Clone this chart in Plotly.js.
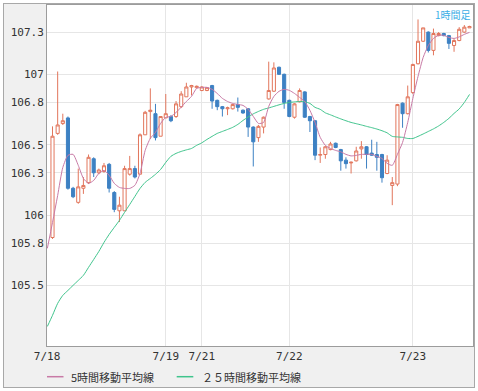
<!DOCTYPE html>
<html><head><meta charset="utf-8">
<script src="https://cdn.plot.ly/plotly-3.0.1.min.js"></script>
<style>
html,body{margin:0;padding:0;background:#ffffff;}
#frame{position:absolute;left:3px;top:3px;width:470px;height:383px;border:1px solid #a8a8a8;background:#f0f0f0;}
#chart{width:470px;height:383px;}
</style></head><body>
<div id="frame"><div id="chart"></div></div>
<script>
// Hourly candles, 7/18 02:00 ... 7/23 11:00 (weekend gap after 7/19 06:00)
var open = [105.84,106.58,106.65,106.69,106.19,106.09,106.19,106.23,106.40,106.30,
  106.31,106.36,106.16,106.03,106.03,106.29,106.33,106.29,106.57,106.735,
  106.72,106.56,106.69,106.70,106.70,106.77,106.84,106.91,106.905,106.885,
  106.885,106.92,106.815,106.77,106.755,106.755,106.785,106.745,106.755,106.625,
  106.55,106.625,106.825,106.88,107.05,107.0,106.815,106.695,106.805,106.875,
  106.70,106.67,106.425,106.43,106.465,106.51,106.465,106.39,106.37,106.385,
  106.47,106.485,106.44,106.43,106.43,106.295,106.21,106.22,106.795,106.72,
  106.87,107.075,107.235,107.30,107.17,107.275,107.29,107.275,107.205,107.24,
  107.30,107.33];
var high = [106.63,107.02,106.72,106.70,106.20,106.33,106.27,106.43,106.41,106.33,
  106.37,106.37,106.17,106.13,106.35,106.42,106.35,106.58,106.74,106.90,
  106.79,106.70,106.86,106.71,106.81,106.88,106.94,106.925,106.92,106.915,
  106.91,106.925,106.82,106.775,106.77,106.79,106.835,106.75,106.76,106.63,
  106.64,106.70,107.09,107.085,107.055,107.005,106.82,106.795,106.90,106.88,
  106.705,106.675,106.48,106.49,106.52,106.515,106.47,106.41,106.38,106.485,
  106.525,106.49,106.535,106.52,106.435,106.425,106.27,106.79,106.80,106.92,
  107.075,107.39,107.33,107.305,107.325,107.30,107.295,107.28,107.25,107.335,
  107.35,107.345];
var low = [105.83,106.57,106.64,106.18,106.12,106.08,106.15,106.22,106.27,106.29,
  106.30,106.16,106.02,105.95,106.03,106.28,106.26,106.29,106.57,106.54,
  106.53,106.56,106.69,106.66,106.69,106.76,106.84,106.85,106.90,106.88,
  106.88,106.755,106.745,106.70,106.71,106.75,106.735,106.72,106.555,106.345,
  106.52,106.58,106.82,106.875,106.995,106.755,106.695,106.685,106.80,106.69,
  106.59,106.39,106.37,106.40,106.46,106.475,106.315,106.33,106.295,106.38,
  106.40,106.33,106.42,106.315,106.23,106.29,106.07,106.205,106.62,106.715,
  106.86,107.07,107.23,107.155,107.135,107.27,107.27,107.18,107.16,107.235,
  107.295,107.33];
var close = [106.56,106.64,106.67,106.19,106.13,106.20,106.21,106.41,106.30,106.32,
  106.35,106.19,106.04,106.07,106.33,106.33,106.27,106.57,106.73,106.745,
  106.55,106.70,106.72,106.67,106.79,106.86,106.91,106.92,106.915,106.91,
  106.905,106.81,106.77,106.755,106.762,106.785,106.765,106.725,106.625,106.52,
  106.63,106.695,106.885,107.045,107.0,106.80,106.70,106.79,106.885,106.695,
  106.67,106.425,106.43,106.485,106.505,106.48,106.385,106.365,106.375,106.455,
  106.485,106.43,106.425,106.41,106.265,106.39,106.23,106.785,106.72,106.84,
  107.07,107.235,107.33,107.17,107.29,107.29,107.275,107.22,107.24,107.32,
  107.335,107.34];
// moving averages, first value = the hour before the first candle shown
var ma5 = [105.763,105.947,106.139,106.338,106.424,106.431,106.353,106.260,106.225,106.246,
  106.296,106.317,106.282,106.225,106.196,106.189,106.189,106.211,106.296,106.459,
  106.545,106.587,106.651,106.694,106.701,106.729,106.767,106.807,106.843,106.900,
  106.907,106.907,106.893,106.864,106.829,106.807,106.793,106.786,106.779,106.751,
  106.701,106.651,106.658,106.772,106.843,106.879,106.893,106.886,106.864,106.836,
  106.807,106.744,106.658,106.552,106.495,106.473,106.459,106.449,106.431,106.420,
  106.424,106.431,106.431,106.431,106.417,106.402,106.367,106.353,106.431,106.516,
  106.658,106.829,106.985,107.120,107.205,107.255,107.277,107.277,107.262,107.255,
  107.266,107.284,107.298];
var ma25 = [105.208,105.287,105.372,105.429,105.464,105.500,105.535,105.571,105.628,105.684,
  105.741,105.805,105.862,105.912,105.962,106.019,106.075,106.132,106.189,106.232,
  106.260,106.289,106.324,106.374,106.417,106.438,106.452,106.463,106.473,106.495,
  106.513,106.537,106.559,106.580,106.594,106.608,106.623,106.644,106.672,106.697,
  106.719,106.736,106.751,106.761,106.772,106.783,106.793,106.800,106.804,106.807,
  106.805,106.793,106.765,106.751,106.726,106.712,106.697,106.683,106.670,106.658,
  106.649,106.640,106.630,106.621,106.611,106.599,106.584,106.559,106.555,106.552,
  106.544,106.544,106.559,106.576,106.594,106.612,106.633,106.658,106.687,106.722,
  106.754,106.800,106.857];
var dayLabels = ["7/18","7/19","7/21","7/22","7/23"];
var dayPos = [-1.06, 22, 29, 46, 70];
var priceTicks = [105.5,105.8,106,106.3,106.5,106.8,107,107.3];
var priceLabels = ["105.5","105.8","106","106.3","106.5","106.8","107","107.3"];
var seriesNames = ["5時間移動平均線","２５時間移動平均線"];
var periodLabel = "1時間足";

var candleX = open.map(function(_, i){ return i; });
var maX = ma5.map(function(_, i){ return i - 1; });

var C5 = "#c87aa6", C25 = "#3fc48c";
var traces = [
  {type:"scatter", mode:"lines", x:maX, y:ma25, name:seriesNames[1],
   line:{color:C25, width:1, shape:"spline", smoothing:0.6}, hoverinfo:"skip"},
  {type:"candlestick", x:candleX, open:open, high:high, low:low, close:close,
   increasing:{line:{color:"#e2765c", width:1}, fillcolor:"#ffffff"},
   decreasing:{line:{color:"#3d81c3", width:1}, fillcolor:"#3d81c3"},
   whiskerwidth:0, hoverinfo:"skip"},
  {type:"scatter", mode:"lines", x:maX, y:ma5, name:seriesNames[0],
   line:{color:C5, width:1, shape:"spline", smoothing:0.6}, hoverinfo:"skip"}
];

var W = 426, H = 341; // plot area px
function px2x(p){ return (p - 47) / W; }
function px2y(p){ return (346 - p) / H; }
var legY = px2y(376.7);

var tickFont = {family:"DejaVu Sans Mono, Liberation Mono, monospace", size:11, color:"#333333"};
var layout = {
  width:470, height:383,
  margin:{l:43, r:1, t:1, b:41, pad:0},
  paper_bgcolor:"#f0f0f0", plot_bgcolor:"#ffffff",
  showlegend:false, hovermode:false,
  boxgap:0.4, boxgroupgap:0,
  xaxis:{type:"linear", range:[-1.07, 81.68], tickvals:dayPos, ticktext:dayLabels,
    showgrid:true, gridcolor:"#e6e6e6", gridwidth:1, zeroline:false,
    showline:true, linecolor:"#9c9c9c", linewidth:1, mirror:true, ticks:"",
    tickfont:tickFont, rangeslider:{visible:false}, fixedrange:true},
  yaxis:{range:[105.069, 107.4926], tickvals:priceTicks, ticktext:priceLabels,
    showgrid:true, gridcolor:"#e6e6e6", gridwidth:1, zeroline:false,
    showline:true, linecolor:"#9c9c9c", linewidth:1, mirror:true, ticks:"",
    tickfont:tickFont, fixedrange:true},
  shapes:[
    {type:"line", xref:"paper", yref:"paper", x0:px2x(47), x1:px2x(63.5), y0:legY, y1:legY,
     line:{color:C5, width:1.5}},
    {type:"line", xref:"paper", yref:"paper", x0:px2x(176.7), x1:px2x(193.3), y0:legY, y1:legY,
     line:{color:C25, width:1.5}}
  ],
  annotations:[
    {xref:"paper", yref:"paper", x:px2x(69), y:legY, xanchor:"left", yanchor:"middle",
     text:seriesNames[0], showarrow:false,
     font:{family:"Noto Sans CJK JP", size:11, color:"#333333"}},
    {xref:"paper", yref:"paper", x:px2x(199.5), y:legY, xanchor:"left", yanchor:"middle",
     text:seriesNames[1], showarrow:false,
     font:{family:"Noto Sans CJK JP", size:11, color:"#333333"}},
    {xref:"paper", yref:"paper", x:1, y:1, xanchor:"right", yanchor:"top",
     text:periodLabel, showarrow:false,
     font:{family:"Noto Sans CJK JP", size:10, color:"#3aaee6"}}
  ]
};
Plotly.newPlot("chart", traces, layout, {displayModeBar:false, staticPlot:true});
</script></body></html>
